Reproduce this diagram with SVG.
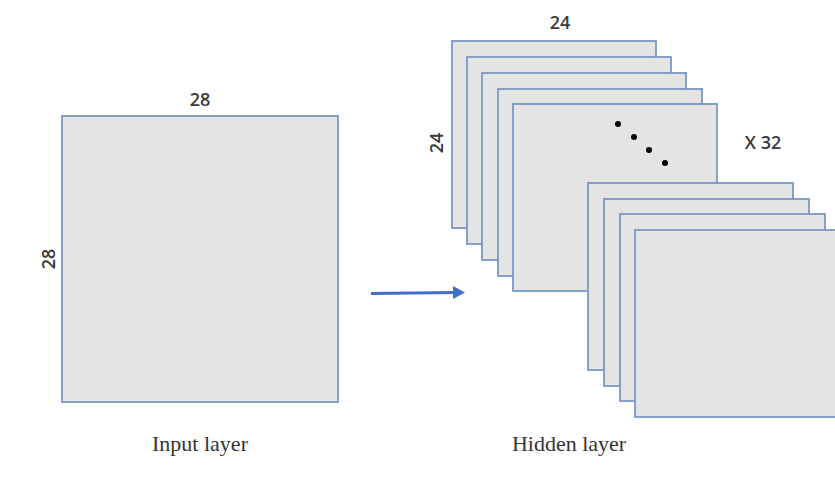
<svg xmlns="http://www.w3.org/2000/svg" width="835" height="478" viewBox="0 0 835 478">
<style>
.box{fill:#e4e4e4;stroke:#7b97c6;stroke-width:1.8}
.num{font-family:"Open Sans","Liberation Sans",sans-serif;font-size:18px;font-weight:600;fill:#3a3a3a}
.lbl{font-family:"Liberation Serif",serif;font-size:22px;fill:#333}
.dot{fill:#000}
</style>
<defs>
<marker id="ah" markerWidth="14" markerHeight="14" refX="2" refY="6.5" orient="auto" markerUnits="userSpaceOnUse">
<path d="M0,0 L12,6.5 L0,13 Z" fill="#3f6fc8"/>
</marker>
</defs>
<rect width="835" height="478" fill="#fff"/>
<g id="input-layer">
<rect class="box" x="62" y="116" width="276" height="286"/>
<text class="num" x="200" y="106" text-anchor="middle">28</text>
<text class="num" transform="translate(55,259) rotate(-90)" text-anchor="middle">28</text>
<text class="lbl" x="200" y="451" text-anchor="middle">Input layer</text>
</g>
<g id="hidden-layer">
<rect class="box" x="452" y="41" width="204" height="187"/>
<rect class="box" x="467" y="57" width="204" height="187"/>
<rect class="box" x="482" y="73" width="204" height="187"/>
<rect class="box" x="498" y="89" width="204" height="187"/>
<rect class="box" x="513" y="104" width="204" height="187"/>
<circle class="dot" cx="618" cy="124" r="3"/>
<circle class="dot" cx="634" cy="137" r="3"/>
<circle class="dot" cx="649" cy="150" r="3"/>
<circle class="dot" cx="665" cy="163" r="3"/>
<rect class="box" x="588" y="183" width="205" height="187"/>
<rect class="box" x="604" y="199" width="205" height="187"/>
<rect class="box" x="620" y="214" width="205" height="187"/>
<rect class="box" x="635" y="230" width="205" height="187"/>
<text class="num" x="560" y="29" text-anchor="middle">24</text>
<text class="num" transform="translate(443,143) rotate(-90)" text-anchor="middle">24</text>
<text class="num" x="763" y="149" text-anchor="middle">X 32</text>
<text class="lbl" x="569" y="451" text-anchor="middle">Hidden layer</text>
</g>
<g id="connectors">
<line x1="371" y1="293.5" x2="455" y2="292.5" stroke="#3f6fc8" stroke-width="3" marker-end="url(#ah)"/>
</g>
</svg>
